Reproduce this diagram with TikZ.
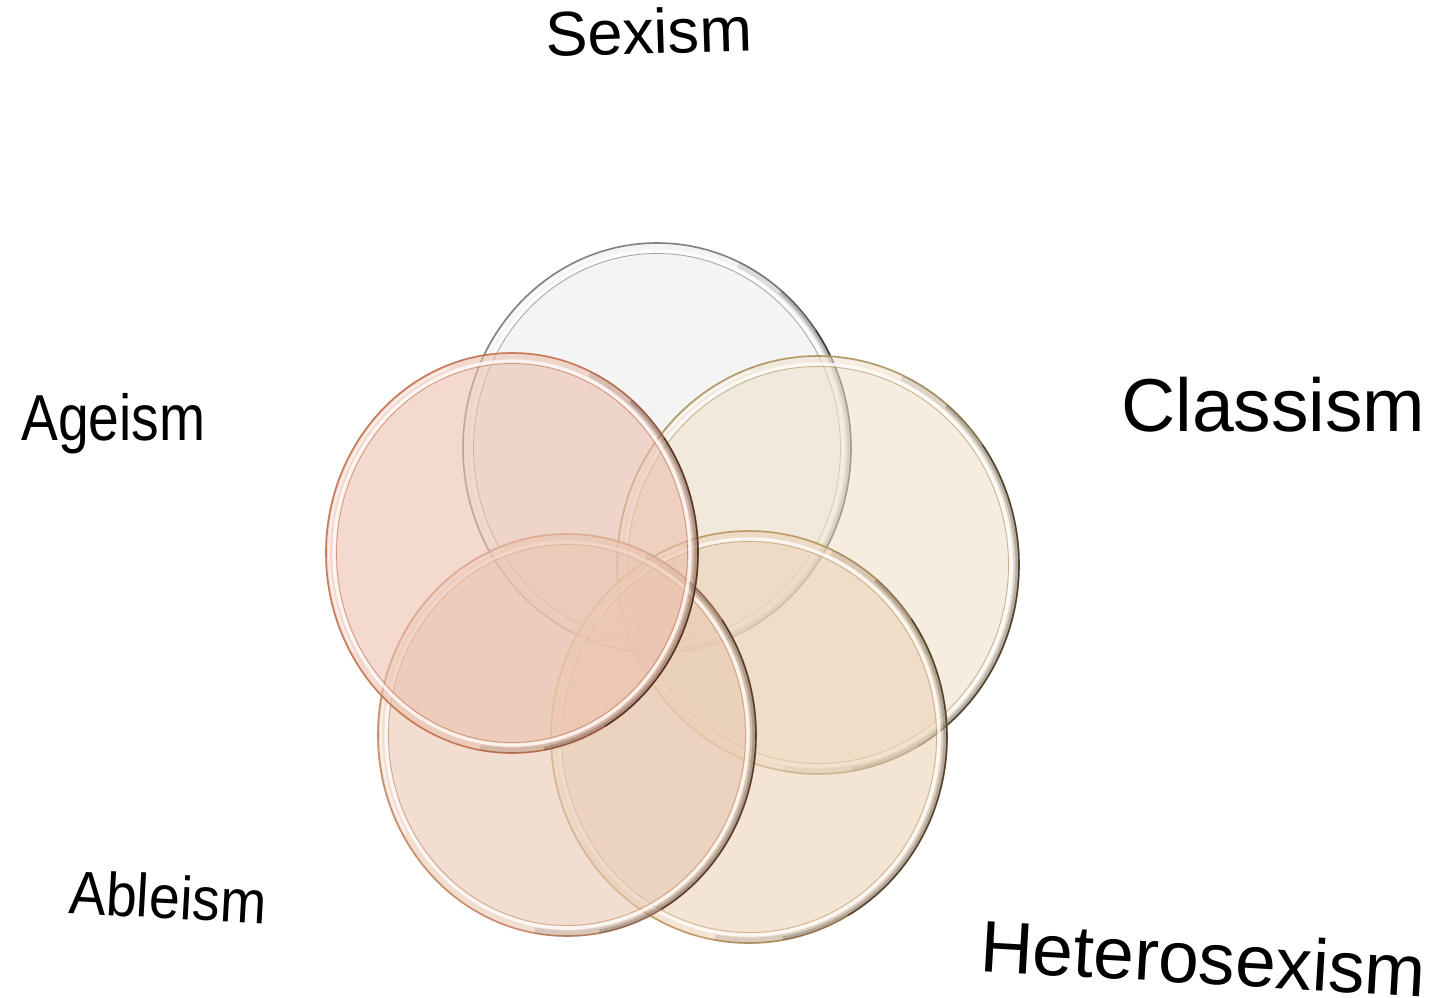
\documentclass[tikz,border=0pt]{standalone}
\usepackage{graphicx}
\usepackage{fontspec}
\setmainfont{Liberation Sans}
\definecolor{sexfill}{HTML}{EEEEEE}
\definecolor{sexedge}{HTML}{6E6E6E}
\definecolor{agefill}{HTML}{EDC0AE}
\definecolor{ageedge}{HTML}{C06A45}
\definecolor{clsfill}{HTML}{F0E2CC}
\definecolor{clsedge}{HTML}{A58A55}
\definecolor{ablfill}{HTML}{E8C9B2}
\definecolor{abledge}{HTML}{C07E58}
\definecolor{hetfill}{HTML}{EBD3B7}
\definecolor{hetedge}{HTML}{B58F58}
\newcommand{\glassdisc}[5]{%
  \fill[#4, fill opacity=0.6] (#1) ellipse [x radius=#2, y radius=#3];
  \draw[white, line width=3.2pt, opacity=0.75] (#1) ellipse [x radius=#2-9, y radius=#3-9];
  \draw[#5, line width=0.8pt, opacity=0.6] (#1) ellipse [x radius=#2-11.5, y radius=#3-11.5];
  \draw[#5, line width=1.6pt, opacity=0.85] (#1) ellipse [x radius=#2-1, y radius=#3-1];
  \draw[black, line width=6pt, opacity=0.10] (#1) ++(-65:{#2-3.5} and {#3-3.5}) arc[start angle=-65, end angle=100, x radius=#2-3.5, y radius=#3-3.5];
  \draw[black, line width=4pt, opacity=0.18] (#1) ++(-50:{#2-2.5} and {#3-2.5}) arc[start angle=-50, end angle=80, x radius=#2-2.5, y radius=#3-2.5];
  \draw[black, line width=1.6pt, opacity=0.40] (#1) ++(-35:{#2-1} and {#3-1}) arc[start angle=-35, end angle=60, x radius=#2-1, y radius=#3-1];
  \draw[white, line width=2pt, opacity=0.6] (#1) ++(150:{#2-4} and {#3-4}) arc[start angle=150, end angle=250, x radius=#2-4, y radius=#3-4];
}
\tikzset{lbl/.style={inner sep=0pt, anchor=base west, text=black}}
\begin{document}
\begin{tikzpicture}[x=1pt, y=-1pt]
\useasboundingbox (0,0) rectangle (1435,998);
\fill[white] (0,0) rectangle (1435,998);
% discs
\coordinate (cSex) at (657,448);
\coordinate (cCls) at (818,565);
\coordinate (cHet) at (749,737);
\coordinate (cAbl) at (567,735);
\coordinate (cAge) at (512,553);
\glassdisc{cSex}{195}{206}{sexfill}{sexedge}
\glassdisc{cCls}{202}{210}{clsfill}{clsedge}
\glassdisc{cHet}{199}{207}{hetfill}{hetedge}
\glassdisc{cAbl}{190}{202}{ablfill}{abledge}
\glassdisc{cAge}{187}{201}{agefill}{ageedge}
% labels
\node[lbl, rotate=1.8, font=\fontsize{63}{63}\selectfont] (lSex) at (546,57) {Sexism};
\node[lbl, font=\fontsize{75}{75}\selectfont] (lCls) at (1121,431) {Classism};
\node[lbl, font=\fontsize{65}{65}\selectfont] (lAge) at (21,440) {\scalebox{0.85}[1]{Ageism}};
\node[lbl, rotate=-3.2, font=\fontsize{61}{61}\selectfont] (lAbl) at (68,913) {\scalebox{0.91}[1]{Ableism}};
\node[lbl, rotate=-3.3, font=\fontsize{73}{73}\selectfont] (lHet) at (979,971) {Heterosexism};
\end{tikzpicture}
\end{document}
